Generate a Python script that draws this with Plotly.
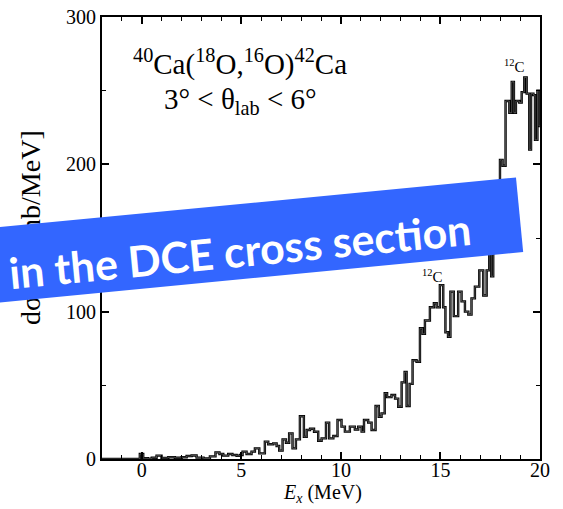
import plotly.graph_objects as go

# ---- data (step histogram: left edge of each step, level) ----
step_edges = [-2.0, -0.1, 0.07, 0.3, 0.5, 0.74, 0.99, 1.33, 1.66, 2.0, 2.25, 2.5, 2.75, 3.1,
              3.42, 3.7, 3.9, 4.09, 4.34, 4.55, 4.76, 4.93, 5.06, 5.26, 5.51, 5.68, 5.9,
              6.18, 6.35, 6.6, 6.77, 6.9, 7.07, 7.24, 7.4, 7.57, 7.74, 7.94, 8.14, 8.28,
              8.45, 8.65, 8.86, 9.03, 9.25, 9.41, 9.62, 9.83, 10.03, 10.2, 10.45, 10.7,
              10.87, 11.04, 11.16, 11.37, 11.54, 11.74, 11.9, 12.04, 12.2, 12.32, 12.54,
              12.72, 12.88, 13.05, 13.2, 13.3, 13.45, 13.6, 13.8, 13.97, 14.1, 14.22,
              14.47, 14.67, 14.81, 14.97, 15.14, 15.25, 15.38, 15.5, 15.67, 15.89, 16.06,
              16.23, 16.4, 16.56, 16.73, 16.95, 17.15, 17.32, 17.45, 17.55, 17.65, 17.99,
              18.12, 18.27, 18.46, 18.58, 18.69, 18.79, 18.96, 19.08, 19.21, 19.33, 19.46,
              19.55, 19.67, 19.75, 19.87, 19.95]
step_levels = [0, 3.4, 0.5, 0.2, 0.8, 2.3, 0.7, 1.2, 0.8, 1.2, 2.0, 2.4, 0.9, 0.4,
               1.8, 4.5, 3.4, 2.3, 3.4, 2.7, 2.2, 2.7, 5.0, 3.4, 5.0, 7.2, 3.8,
               11.8, 10.0, 10.6, 8.8, 5.7, 13.3, 11.0, 17.4, 7.2, 13.3, 29.0, 15.0, 19.7,
               20.5, 18.5, 12.4, 14.0, 24.7, 14.0, 15.6, 26.5, 22.0, 18.6, 22.0, 20.0,
               22.0, 18.6, 26.5, 24.7, 19.7, 36.0, 28.7, 31.0, 44.6, 42.0, 43.4,
               41.0, 35.5, 52.0, 59.0, 36.0, 51.0, 67.0, 66.0, 88.7, 85.0, 94.0,
               103.0, 105.7, 103.0, 118.0, 103.0, 86.0, 83.0, 113.6, 97.0, 113.6, 107.0,
               100.0, 98.0, 109.0, 117.0, 128.0, 111.0, 128.0, 150.0, 124.0, 172.0, 203.0,
               199.0, 243.0, 235.0, 256.0, 235.0, 243.0, 242.0, 249.0, 259.0, 248.0, 210.0,
               248.0, 247.0, 216.6, 250.0, 226.0]
x_end = 20.0

x_range = [-2, 20]
y_range = [0, 300]
x_major = 5
x_minor = 1
y_major = 100
y_minor = 50

label_12c = [(14.62, 124), (18.7, 267)]

# ---- layout geometry (pixels) ----
W, H = 563, 509
L, R, T, B = 102, 23, 17, 50
PW, PH = W - L - R, H - T - B


def px(x):
    return (x - L) / PW


def py(y):
    return (H - B - y) / PH


xs = step_edges + [x_end]
ys = step_levels + [step_levels[-1]]

SERIF = "Liberation Serif, Times New Roman, serif"

fig = go.Figure()
fig.add_trace(go.Scatter(x=xs, y=ys, mode="lines",
                         line=dict(shape="hv", color="black", width=2.4),
                         hoverinfo="skip", showlegend=False))
fig.add_trace(go.Scatter(x=xs, y=ys, mode="lines",
                         line=dict(shape="hv", color="#808080", width=0.6),
                         hoverinfo="skip", showlegend=False))

axis_common = dict(
    showgrid=False, zeroline=False, showline=True, linecolor="black", linewidth=2,
    mirror="allticks", ticks="inside", ticklen=7, tickwidth=1.5, tickcolor="black",
    tickfont=dict(family=SERIF, size=20, color="black"), automargin=False,
)

fig.update_xaxes(range=x_range, tick0=0, dtick=x_major, ticklabelstandoff=-8,
                 minor=dict(tick0=0, dtick=x_minor, ticks="inside", ticklen=4,
                            tickwidth=1.2, tickcolor="black", showgrid=False),
                 **axis_common)
fig.update_yaxes(range=y_range, tick0=0, dtick=y_major,
                 minor=dict(tick0=0, dtick=y_minor, ticks="inside", ticklen=4,
                            tickwidth=1.2, tickcolor="black", showgrid=False),
                 **axis_common)

annotations = []
for ex, val in label_12c:
    annotations.append(dict(x=ex, y=val, xref="x", yref="y", showarrow=False,
                            text="<sup>12</sup>C",
                            font=dict(family=SERIF, size=15, color="black")))

annotations.append(dict(x=px(240), y=py(63), xref="paper", yref="paper", showarrow=False,
                        xanchor="center", yanchor="middle",
                        text="<sup>40</sup>Ca(<sup>18</sup>O,<sup>16</sup>O)<sup>42</sup>Ca",
                        font=dict(family=SERIF, size=29, color="black")))
annotations.append(dict(x=px(240), y=py(101), xref="paper", yref="paper", showarrow=False,
                        xanchor="center", yanchor="middle",
                        text="3° &lt; θ<sub>lab</sub> &lt; 6°",
                        font=dict(family=SERIF, size=29, color="black")))

# x-axis title
annotations.append(dict(x=px(322), y=py(493), xref="paper", yref="paper", showarrow=False,
                        xanchor="center", yanchor="middle",
                        text="<i>E</i><sub><i>x</i></sub> (MeV)",
                        font=dict(family=SERIF, size=20, color="black")))

# y-axis title (partially hidden by the banner)
annotations.append(dict(x=px(30), y=py(228), xref="paper", yref="paper", showarrow=False,
                        xanchor="center", yanchor="middle", textangle=-90,
                        text="dσ/dE [mb/MeV]",
                        font=dict(family=SERIF, size=28, color="black")))

# blue banner
annotations.append(dict(x=px(221), y=py(244), xref="paper", yref="paper", showarrow=False,
                        xanchor="center", yanchor="middle", textangle=-5.5,
                        text="&nbsp;", width=600, height=75, borderpad=0, borderwidth=0,
                        bgcolor="#3366ff", font=dict(size=10, color="#3366ff")))
annotations.append(dict(x=px(240), y=py(250), xref="paper", yref="paper", showarrow=False,
                        xanchor="center", yanchor="middle", textangle=-5.5,
                        text="<b>in the DCE cross section</b>",
                        font=dict(family="Lato, Open Sans, sans-serif", size=43, color="white")))

fig.update_layout(
    width=W, height=H,
    margin=dict(l=L, r=R, t=T, b=B, pad=0),
    paper_bgcolor="white", plot_bgcolor="white",
    annotations=annotations,
    showlegend=False,
)

fig.write_html("out.html")
